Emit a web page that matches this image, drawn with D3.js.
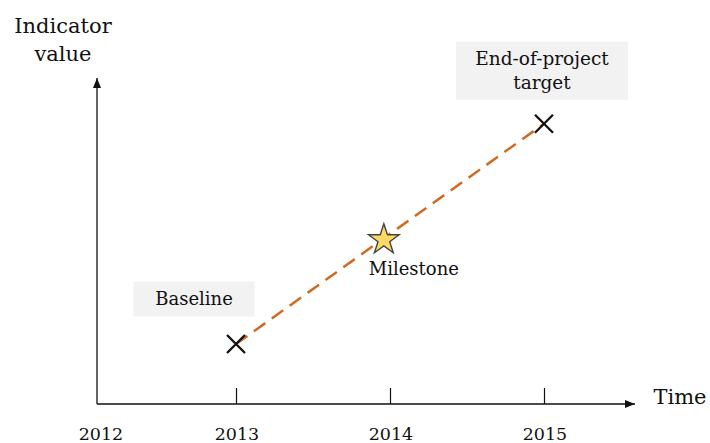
<!DOCTYPE html>
<html><head><meta charset="utf-8">
<script src="https://cdn.jsdelivr.net/npm/d3@7"></script>
<style>body{margin:0;background:#fff}svg{display:block}text{font-family:"DejaVu Serif",serif;fill:#111}</style>
</head><body><svg id="c" width="710" height="443"></svg>
<script>
const tickYears = [2012, 2013, 2014, 2015];
const tickLabels = ["2012", "2013", "2014", "2015"];
const pointNames = ["Baseline", "Milestone", "End-of-project target"];
const pointYears = [2013, 2013.96, 2015];
const pointValues = [1.85, 5.1, 8.65];
const pointShapes = ["x", "star", "x"];

const svg = d3.select("#c");
const x = d3.scaleLinear().domain([2012, 2013, 2015]).range([97, 236, 544]);
const y = d3.scaleLinear().domain([0, 10]).range([404, 80]);

const defs = svg.append("defs");
defs.append("marker").attr("id","ah").attr("viewBox","0 0 10 10").attr("refX",10).attr("refY",5)
  .attr("markerWidth",10).attr("markerHeight",10).attr("markerUnits","userSpaceOnUse").attr("orient","auto")
  .append("path").attr("d","M0,1 L10,5 L0,9 Z").attr("fill","#111");

// axes
svg.append("line").attr("x1",x(2012)).attr("y1",y(0)).attr("x2",x(2012)).attr("y2",y(10)-2)
  .attr("stroke","#111").attr("stroke-width",1.3).attr("marker-end","url(#ah)");
svg.append("line").attr("x1",x(2012)).attr("y1",y(0)).attr("x2",635).attr("y2",y(0))
  .attr("stroke","#111").attr("stroke-width",1.3).attr("marker-end","url(#ah)");

const xAxis = d3.axisTop(x).tickValues(tickYears.slice(1)).tickSize(16).tickFormat("");
const gx = svg.append("g").attr("transform",`translate(0,${y(0)})`).call(xAxis);
gx.select(".domain").remove();
gx.selectAll("line").attr("stroke","#111").attr("stroke-width",1.2);

svg.selectAll(".yl").data(tickYears).join("text")
  .attr("x",(d,i)=> i===0 ? x(d)+4 : x(d)+1).attr("y",440).attr("text-anchor","middle")
  .attr("font-size",17.5).text((d,i)=>tickLabels[i]);

svg.append("text").attr("x",63).attr("y",33).attr("text-anchor","middle").attr("font-size",21).text("Indicator");
svg.append("text").attr("x",63).attr("y",61).attr("text-anchor","middle").attr("font-size",21).text("value");
svg.append("text").attr("x",680).attr("y",404).attr("text-anchor","middle").attr("font-size",21).text("Time");

// dashed line
svg.append("line")
  .attr("x1",x(pointYears[0])).attr("y1",y(pointValues[0]))
  .attr("x2",x(pointYears[2])).attr("y2",y(pointValues[2]))
  .attr("stroke","#d06a22").attr("stroke-width",2.5).attr("stroke-dasharray","14,8");

// markers
pointYears.forEach((yr,i)=>{
  const cx = x(yr), cy = y(pointValues[i]);
  if (pointShapes[i]==="x") {
    const h=9;
    svg.append("path").attr("d",`M${cx-h},${cy-h}L${cx+h},${cy+h}M${cx+h},${cy-h}L${cx-h},${cy+h}`)
      .attr("stroke","#111").attr("stroke-width",2.3);
  } else {
    svg.append("path").attr("d",d3.symbol(d3.symbolStar,290)())
      .attr("transform",`translate(${cx},${cy+1})`)
      .attr("fill","#ffd966").attr("stroke","#444").attr("stroke-width",1.4);
  }
});

// labels
function box(cx, cy, w, h, lines, fs, lh){
  svg.append("rect").attr("x",cx-w/2).attr("y",cy-h/2).attr("width",w).attr("height",h).attr("fill","#f2f2f2");
  lines.forEach((t,k)=>{
    svg.append("text").attr("x",cx).attr("y",cy-(lines.length-1)*lh/2+k*lh).attr("dy","0.35em")
      .attr("text-anchor","middle").attr("font-size",fs).text(t);
  });
}
box(x(pointYears[0])-42, y(pointValues[0])-45, 121, 35, [pointNames[0]], 18, 0);
box(x(pointYears[2])-2, y(pointValues[2])-53, 172, 58, ["End-of-project","target"], 18.5, 24);
svg.append("text").attr("x",x(pointYears[1])+30).attr("y",y(pointValues[1])+30).attr("dy","0.35em")
  .attr("text-anchor","middle").attr("font-size",18).text(pointNames[1]);
</script></body></html>
